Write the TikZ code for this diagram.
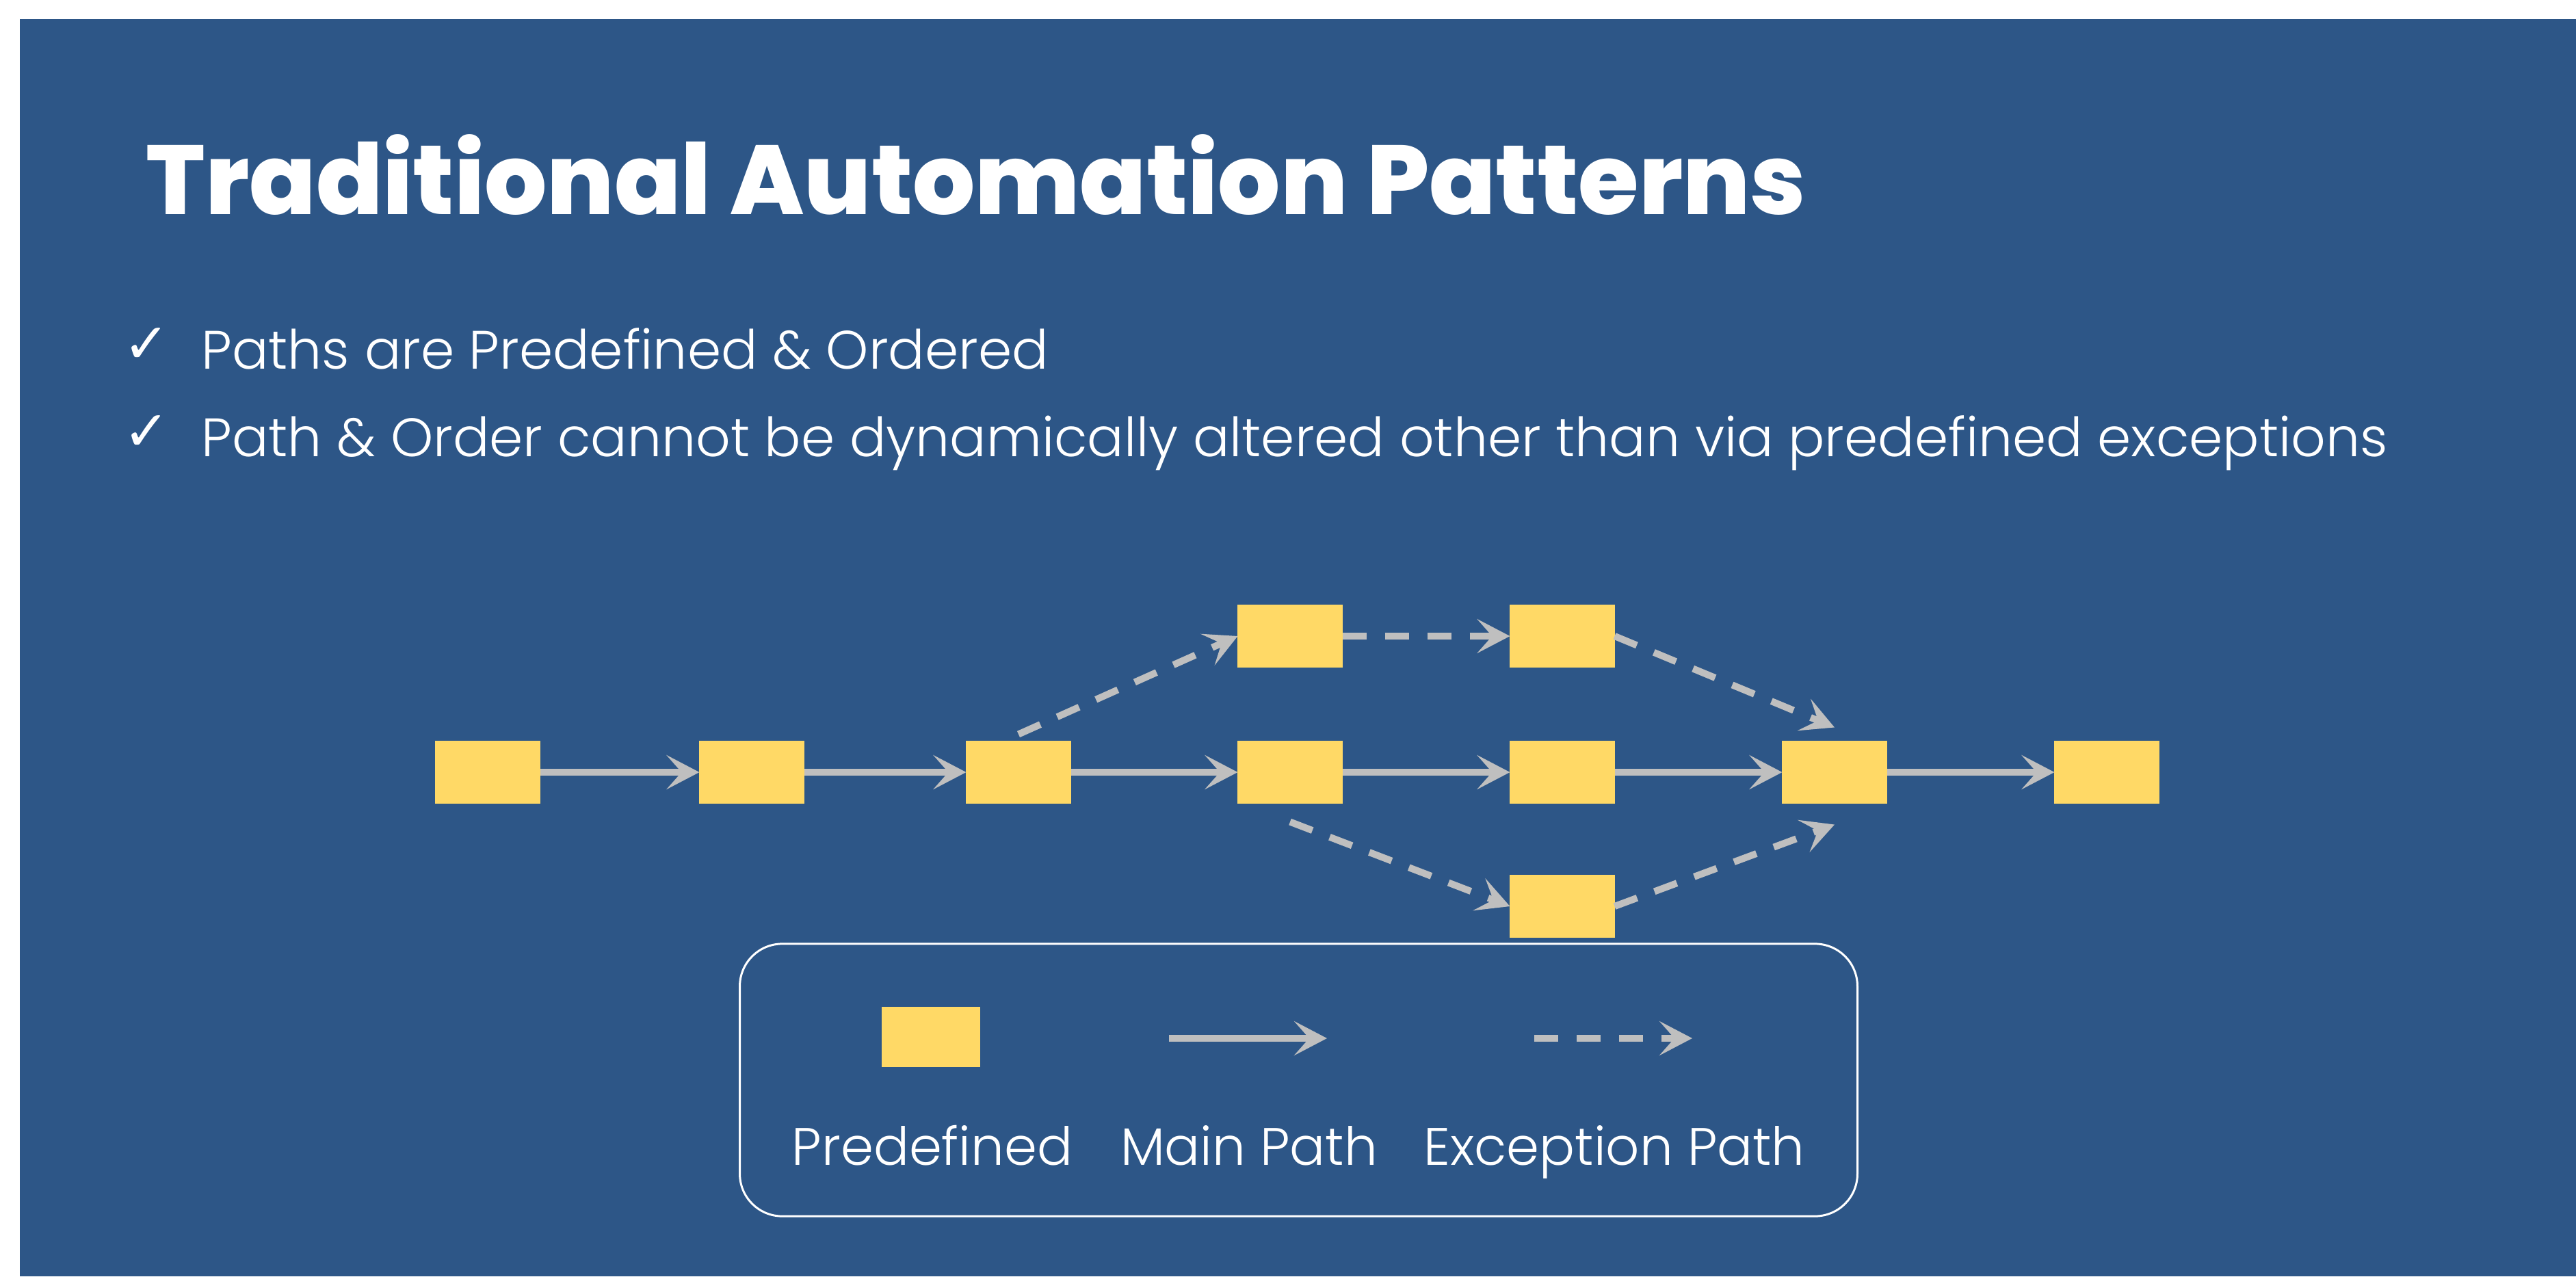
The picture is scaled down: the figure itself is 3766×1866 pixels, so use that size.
\documentclass[tikz,border=0pt]{standalone}
\usepackage{fontspec}
\setmainfont{Poppins}
\newfontfamily\titlefont{Poppins ExtraBold}
\newfontfamily\bodyfont{Poppins Light}
\newfontfamily\symfont{DejaVu Sans}
\usetikzlibrary{arrows.meta}

\definecolor{slide}{RGB}{45,86,135}
\definecolor{stepfill}{RGB}{255,217,102}
\definecolor{flow}{RGB}{191,191,191}

\tikzset{
  stepbox/.style={fill=stepfill, draw=none, minimum width=1.53cm, minimum height=0.91cm, inner sep=0pt, outer sep=0pt},
  mainarrow/.style={draw=flow, line width=0.1cm, -{Stealth[length=0.48cm, width=0.5cm, inset=0.22cm]}},
  excarrow/.style={mainarrow, dash pattern=on 0.35cm off 0.27cm},
  bodytext/.style={anchor=base west, inner sep=0pt, text=white, font=\bodyfont\fontsize{22.5pt}{26pt}\selectfont},
  checkmark/.style={anchor=base west, inner sep=0pt, text=white, font=\symfont\fontsize{23pt}{26pt}\selectfont},
  keytext/.style={anchor=base, inner sep=0pt, text=white, font=\bodyfont\fontsize{21.9pt}{25pt}\selectfont},
}

\begin{document}
\begin{tikzpicture}[x=0.01cm, y=-0.01cm]
  \useasboundingbox (0,0) rectangle (3766,1866);
  \fill[white] (0,0) rectangle (3766,1866);
  \fill[slide] (29,28) rectangle (3766,1866);

  % heading and bullet points
  \node[anchor=base west, inner sep=0pt, text=white, font=\titlefont\fontsize{40.8pt}{44pt}\selectfont] (title) at (213,313) {Traditional Automation Patterns};
  \node[checkmark] (chk1) at (180,530) {✓};
  \node[checkmark] (chk2) at (180,658) {✓};
  \node[bodytext] (pt1) at (294,539) {Paths are Predefined \& Ordered};
  \node[bodytext] (pt2) at (294,667) {Path \& Order cannot be dynamically altered other than via predefined exceptions};

  % main row of steps
  \node[stepbox] (m1) at (713,1129) {};
  \node[stepbox] (m2) at (1099,1129) {};
  \node[stepbox] (m3) at (1489,1129) {};
  \node[stepbox] (m4) at (1886,1129) {};
  \node[stepbox] (m5) at (2284,1129) {};
  \node[stepbox] (m6) at (2682,1129) {};
  \node[stepbox] (m7) at (3080,1129) {};

  % exception steps
  \node[stepbox] (t1) at (1886,930) {};
  \node[stepbox] (t2) at (2284,930) {};
  \node[stepbox] (lo) at (2284,1325) {};

  % main path
  \draw[mainarrow] (m1) -- (m2);
  \draw[mainarrow] (m2) -- (m3);
  \draw[mainarrow] (m3) -- (m4);
  \draw[mainarrow] (m4) -- (m5);
  \draw[mainarrow] (m5) -- (m6);
  \draw[mainarrow] (m6) -- (m7);

  % exception paths
  \draw[excarrow] ([yshift=0.1cm]m3.north) -- (t1.west);
  \draw[excarrow] (t1) -- (t2);
  \draw[excarrow] (t2.east) -- ([yshift=0.2cm]m6.north);
  \draw[excarrow] ([yshift=-0.27cm]m4.south) -- (lo.west);
  \draw[excarrow] (lo.east) -- ([yshift=-0.31cm]m6.south);

  % legend
  \node[draw=white, line width=0.03cm, rounded corners=0.62cm, minimum width=16.33cm, minimum height=3.98cm, inner sep=0pt] (legend) at (1898.5,1579) {};
  \node[stepbox, minimum width=1.44cm, minimum height=0.87cm] (keybox) at (1361,1516) {};
  \coordinate (ka1) at (1709,1518);
  \coordinate (ka2) at (1940,1518);
  \coordinate (ke1) at (2243,1518);
  \coordinate (ke2) at (2474,1518);
  \draw[mainarrow] (ka1) -- (ka2);
  \draw[excarrow] (ke1) -- (ke2);
  \node[keytext] (kl1) at (1363,1703) {Predefined};
  \node[keytext] (kl2) at (1826,1703) {Main Path};
  \node[keytext] (kl3) at (2360,1703) {Exception Path};
\end{tikzpicture}
\end{document}
